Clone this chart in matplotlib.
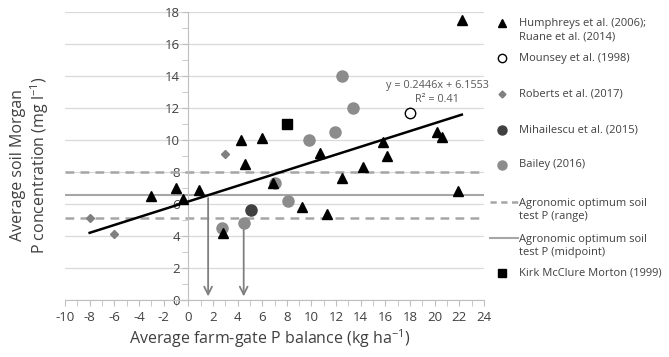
import numpy as np
import matplotlib.pyplot as plt
from matplotlib.ticker import MultipleLocator
from matplotlib.lines import Line2D

plt.rcParams['font.family'] = ['Open Sans', 'DejaVu Sans']
plt.rcParams['mathtext.default'] = 'regular'
plt.rcParams['axes.unicode_minus'] = False

# farm-gate P balance (kg/ha) vs Morgan soil P (mg/l), per study
humphreys_x = [-3.0, -1.0, -0.4, 0.9, 2.8, 4.3, 4.6, 6.0, 6.9, 9.2, 10.7, 11.3,
               12.5, 14.2, 15.8, 16.1, 20.2, 20.6, 21.9, 22.2]
humphreys_y = [6.5, 7.0, 6.3, 6.9, 4.2, 10.0, 8.5, 10.1, 7.3, 5.8, 9.2, 5.4,
               7.6, 8.3, 9.9, 9.0, 10.5, 10.2, 6.8, 17.5]
mounsey_x = [18.0]
mounsey_y = [11.7]
roberts_x = [-8.0, -6.0, 3.0]
roberts_y = [5.1, 4.1, 9.1]
mihailescu_x = [5.1]
mihailescu_y = [5.6]
bailey_x = [2.7, 4.5, 7.0, 8.1, 9.8, 11.9, 12.5, 13.4]
bailey_y = [4.5, 4.8, 7.3, 6.2, 10.0, 10.5, 14.0, 12.0]
kirk_x = [8.0]
kirk_y = [11.0]

# linear fit over all farms
slope, intercept, r2 = 0.2446, 6.1553, 0.41
fit_range = [-8.0, 22.2]

# agronomic optimum soil test P
opt_low, opt_high = 5.1, 8.0
opt_mid = (opt_low + opt_high) / 2

fig = plt.figure(figsize=(6.69, 3.57), dpi=100)
ax = fig.add_axes([65 / 669, 57 / 357, 419 / 669, 288 / 357])
ax.set_xlim(-10, 24)
ax.set_ylim(0, 18)

grey = '#a6a6a6'
ax.grid(axis='y', color='#d9d9d9', lw=0.9)
ax.set_axisbelow(True)

ax.axhline(opt_high, color=grey, lw=1.8, ls=(0, (3.5, 2.5)), zorder=2)
ax.axhline(opt_low, color=grey, lw=1.8, ls=(0, (3.5, 2.5)), zorder=2)
ax.axhline(opt_mid, color=grey, lw=1.5, zorder=2)

fx = np.array(fit_range)
ax.plot(fx, slope * fx + intercept, color='black', lw=1.8, zorder=3)

# arrows to the x axis
x_cross = (opt_mid - intercept) / slope
ax.annotate('', xy=(x_cross, 0.05), xytext=(x_cross, opt_mid),
            arrowprops=dict(arrowstyle='->', color='#808080', lw=1.3, mutation_scale=14), zorder=2)
ax.annotate('', xy=(bailey_x[1], 0.05), xytext=(bailey_x[1], bailey_y[1]),
            arrowprops=dict(arrowstyle='->', color='#808080', lw=1.3, mutation_scale=14), zorder=2)

ax.plot(humphreys_x, humphreys_y, '^', color='black', ms=7.5, zorder=5)
ax.plot(mounsey_x, mounsey_y, 'o', mfc='white', mec='black', mew=1, ms=7.5, zorder=5)
ax.plot(roberts_x, roberts_y, 'D', color='#808080', ms=4.5, zorder=5)
ax.plot(mihailescu_x, mihailescu_y, 'o', color='#404040', ms=8, zorder=5)
ax.plot(bailey_x, bailey_y, 'o', color='#8c8c8c', ms=8, zorder=4)
ax.plot(kirk_x, kirk_y, 's', color='black', ms=7.5, zorder=5)

ax.text(20.2, 13.4, f'y = {slope}x + {intercept}', ha='center', va='center',
        fontsize=7.8, color='#595959')
ax.text(20.2, 12.55, f'R² = {r2}', ha='center', va='center',
        fontsize=7.8, color='#595959')

# excel-style axes: y axis crosses at x = 0
for s in ['top', 'right']:
    ax.spines[s].set_visible(False)
ax.spines['left'].set_position(('data', 0))
ax.spines['left'].set_color('#bfbfbf')
ax.spines['bottom'].set_color('#bfbfbf')
ax.xaxis.set_major_locator(MultipleLocator(2))
ax.xaxis.set_minor_locator(MultipleLocator(1))
ax.yaxis.set_major_locator(MultipleLocator(2))
ax.yaxis.set_minor_locator(MultipleLocator(1))
ax.tick_params(which='both', colors='#bfbfbf', labelcolor='#404040', labelsize=9.5)
ax.tick_params(which='both', length=4)
ax.tick_params(axis='x', pad=4)
ax.tick_params(axis='y', pad=2)

fig.text(270 / 669, 1 - 339 / 357, 'Average farm-gate P balance (kg ha$^{-1}$)',
         ha='center', va='center', fontsize=11.5, color='#404040')
fig.text(18 / 669, 1 - 165 / 357, 'Average soil Morgan', rotation=90,
         ha='center', va='center', fontsize=11.5, color='#404040')
fig.text(40 / 669, 1 - 165 / 357, 'P concentration (mg l$^{-1}$)', rotation=90,
         ha='center', va='center', fontsize=11.5, color='#404040')

# legend drawn in figure pixels
def fy(p):
    return 1 - p / 357

mk_x = 502 / 669
tx_x = 519 / 669
leg_kw = dict(fontsize=8.0, color='#404040', va='center', ha='left')
entries = [
    (dict(marker='^', color='black', ms=6), 23, 'Humphreys et al. (2006);\nRuane et al. (2014)', 30),
    (dict(marker='o', mfc='white', mec='black', mew=1, ms=6), 58, 'Mounsey et al. (1998)', 58),
    (dict(marker='D', color='#808080', ms=3.5), 94, 'Roberts et al. (2017)', 94),
    (dict(marker='o', color='#404040', ms=6.5), 130, 'Mihailescu et al. (2015)', 130),
    (dict(marker='o', color='#8c8c8c', ms=6.5), 165, 'Bailey (2016)', 165),
    (dict(marker='s', color='black', ms=6), 273, 'Kirk McClure Morton (1999)', 273),
]
for style, my, label, ty in entries:
    fig.add_artist(Line2D([mk_x], [fy(my)], ls='none', **style))
    fig.text(tx_x, fy(ty), label, linespacing=1.35, **leg_kw)

fig.add_artist(Line2D([490 / 669, 518 / 669], [fy(202), fy(202)], color=grey, lw=1.8,
                      ls=(0, (2.5, 1.8))))
fig.text(tx_x, fy(210), 'Agronomic optimum soil\ntest P (range)', linespacing=1.35, **leg_kw)
fig.add_artist(Line2D([490 / 669, 518 / 669], [fy(238), fy(238)], color=grey, lw=1.5))
fig.text(tx_x, fy(246), 'Agronomic optimum soil\ntest P (midpoint)', linespacing=1.35, **leg_kw)

fig.savefig('out.png', dpi=100)
